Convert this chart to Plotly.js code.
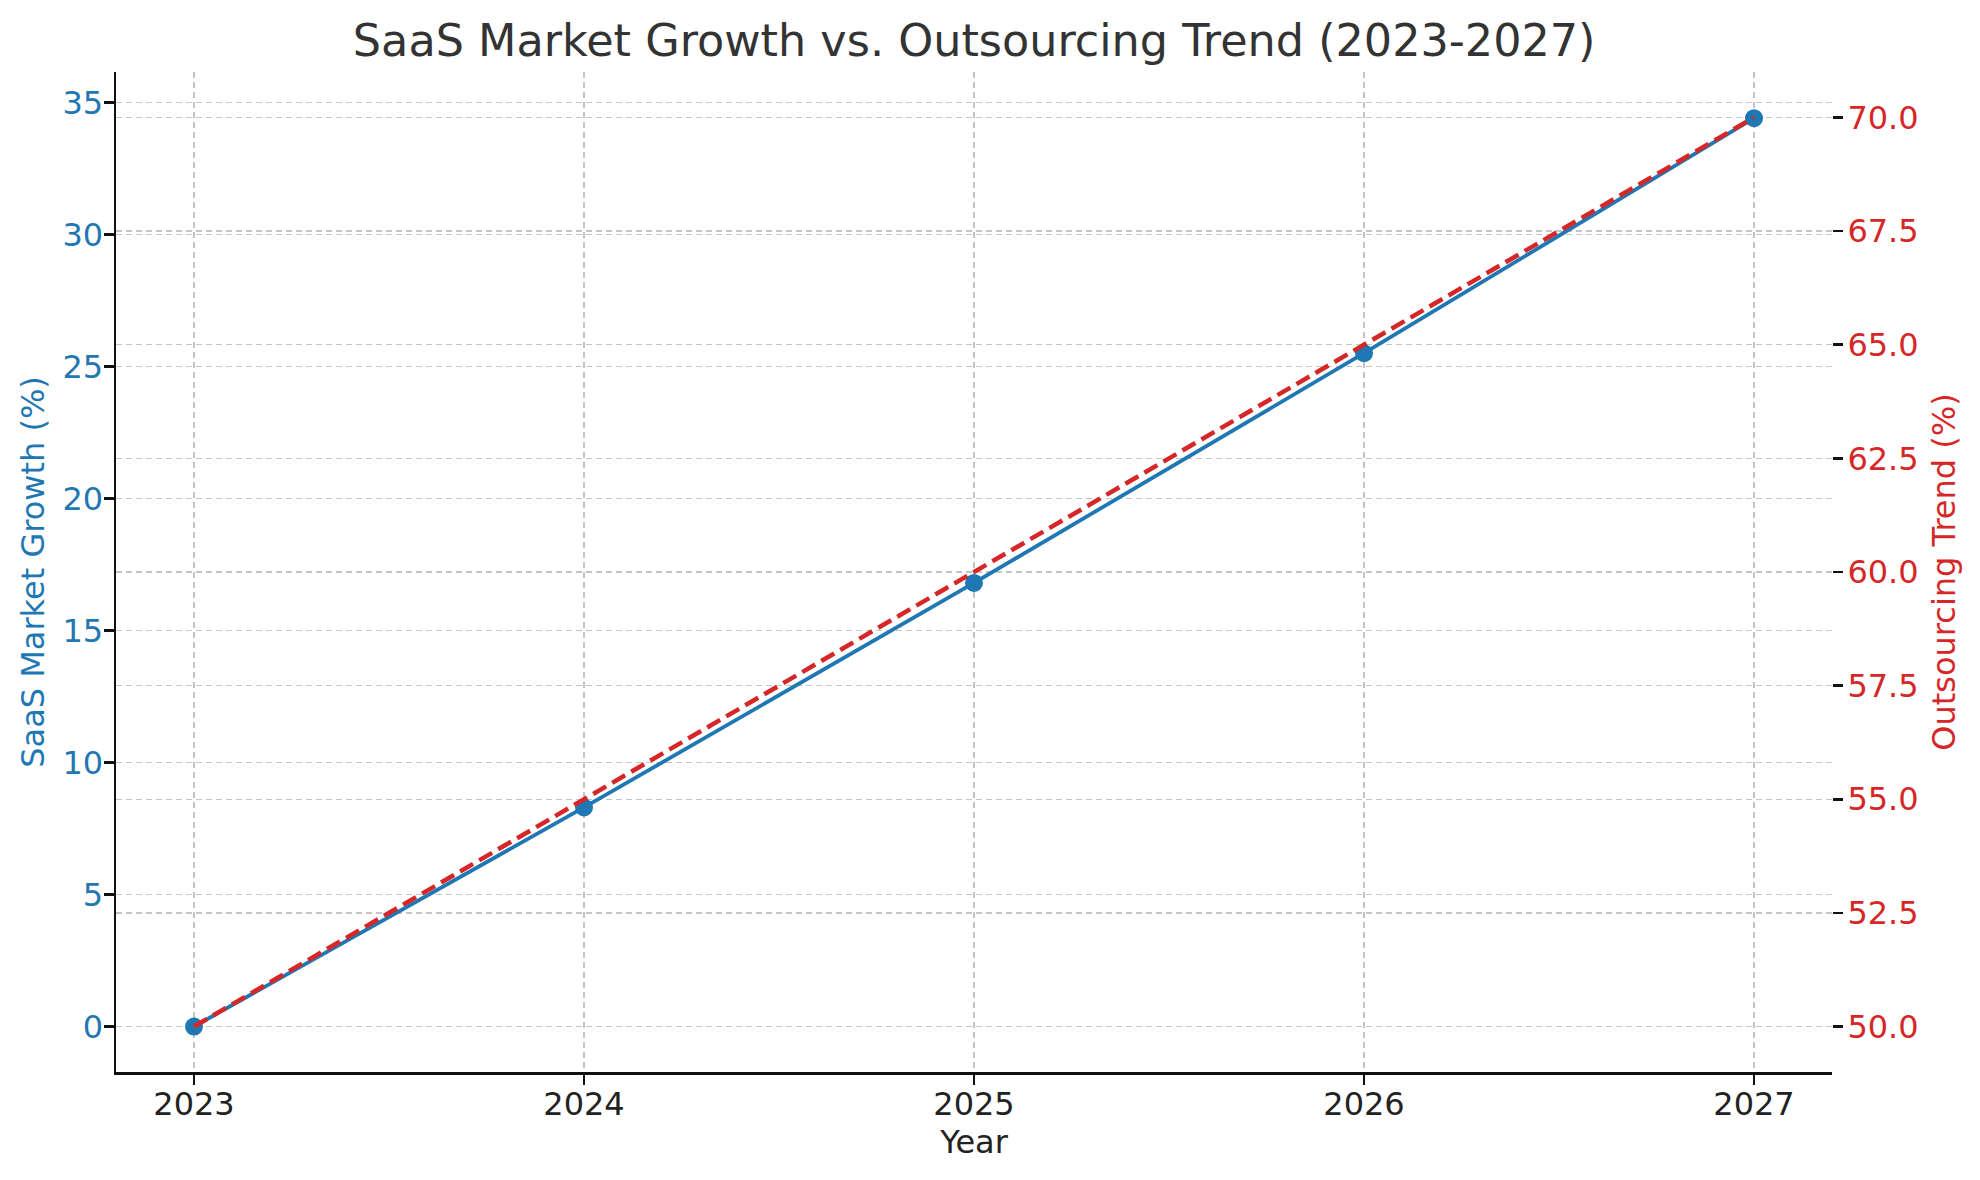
<!DOCTYPE html>
<html lang="en">
<head>
  <meta charset="UTF-8">
  <title>SaaS Market Growth vs. Outsourcing Trend</title>
  <script src="https://cdn.plot.ly/plotly-3.0.1.min.js" charset="utf-8"></script>
  <style>
    body { margin: 0; background: #fff; }
  </style>
</head>
<body>
  <div id="chart" style="width:1980px;height:1180px;"></div>
  <script>
    // values
    const years = [2023, 2024, 2025, 2026, 2027];
    const saasGrowth = [0, 8.3, 16.8, 25.5, 34.4];
    const outsourcing = [50, 55, 60, 65, 70];
    const leftTicks = [0, 5, 10, 15, 20, 25, 30, 35];
    const rightTicks = [50, 52.5, 55, 57.5, 60, 62.5, 65, 67.5, 70];

    const blue = '#1f77b4';
    const red = '#d62728';
    const gridCol = '#c4c4c4';
    const font = 'DejaVu Sans, sans-serif';

    const trace1 = {
      x: years,
      y: saasGrowth,
      name: 'SaaS Market Growth (%)',
      type: 'scatter',
      mode: 'lines+markers',
      line: {color: blue, width: 3.8},
      marker: {color: blue, size: 18},
      yaxis: 'y'
    };

    const trace2 = {
      x: years,
      y: outsourcing,
      name: 'Outsourcing Trend (%)',
      type: 'scatter',
      mode: 'lines',
      line: {color: red, width: 4.5, dash: '15px,7px'},
      yaxis: 'y2'
    };

    const layout = {
      width: 1980,
      height: 1180,
      margin: {l: 116, r: 148, t: 72, b: 108},
      paper_bgcolor: '#fff',
      plot_bgcolor: '#fff',
      showlegend: false,
      font: {family: font, size: 32, color: '#222'},
      title: {
        text: 'SaaS Market Growth vs. Outsourcing Trend (2023-2027)',
        font: {family: font, size: 44.5, color: '#333'},
        x: 0.492, xanchor: 'center', y: 0.966, yanchor: 'middle'
      },
      xaxis: {
        range: [2022.8, 2027.2],
        tickvals: years,
        ticktext: years.map(String),
        showline: true, linecolor: '#111', linewidth: 2.5,
        ticks: 'outside', ticklen: 10, tickwidth: 2.5, tickcolor: '#111',
        ticklabelstandoff: -8,
        showgrid: true, gridcolor: gridCol, gridwidth: 1.5, griddash: '6px,4px',
        zeroline: false,
        tickfont: {family: font, size: 32, color: '#222'},
        title: {text: 'Year', font: {family: font, size: 32, color: '#222'}, standoff: 2}
      },
      yaxis: {
        range: [-1.72, 36.15],
        tickvals: leftTicks,
        showline: true, linecolor: '#111', linewidth: 2.5,
        ticks: 'outside', ticklen: 10, tickwidth: 2.5, tickcolor: '#111',
        ticklabelstandoff: -6,
        showgrid: true, gridcolor: gridCol, gridwidth: 1.5, griddash: '6px,4px',
        zeroline: false,
        tickfont: {family: font, size: 32, color: blue},
        title: {text: 'SaaS Market Growth (%)', font: {family: font, size: 32, color: blue}, standoff: 8}
      },
      yaxis2: {
        overlaying: 'y',
        side: 'right',
        range: [49, 71],
        tickvals: rightTicks,
        ticktext: rightTicks.map(v => v.toFixed(1)),
        showline: false,
        ticks: 'outside', ticklen: 10, tickwidth: 2.5, tickcolor: '#111',
        ticklabelstandoff: -2,
        showgrid: true, gridcolor: gridCol, gridwidth: 1.5, griddash: '6px,4px',
        zeroline: false,
        tickfont: {family: font, size: 32, color: red},
        title: {text: 'Outsourcing Trend (%)', font: {family: font, size: 32, color: red}, standoff: 14}
      }
    };

    Plotly.newPlot('chart', [trace1, trace2], layout, {displayModeBar: false, staticPlot: true});
  </script>
</body>
</html>
